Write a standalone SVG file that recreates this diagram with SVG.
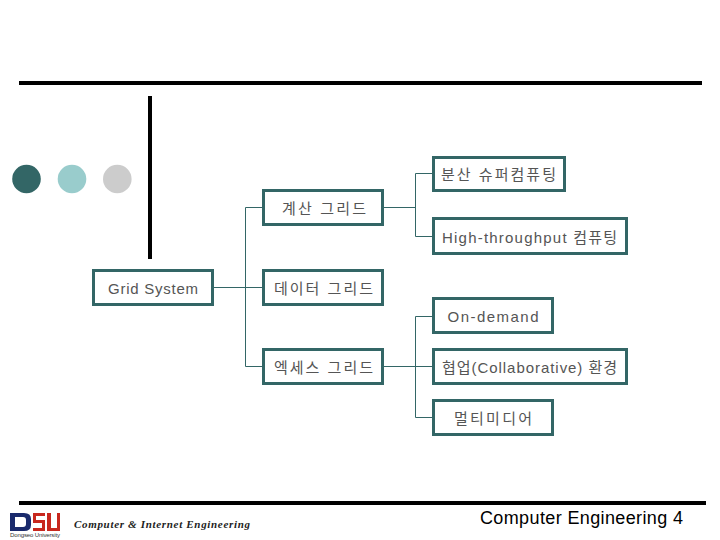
<svg xmlns="http://www.w3.org/2000/svg" width="720" height="540" viewBox="0 0 720 540">
<style>
.bar{fill:#000}
.box{fill:#fff;stroke:#336666;stroke-width:3}
.lbl{font-family:"Liberation Sans","Noto Sans CJK KR",sans-serif;font-size:15px;fill:#555}
.con{fill:none;stroke:#336666;stroke-width:1}
</style>
<rect width="720" height="540" fill="#fff"/>
<rect class="bar" x="19" y="81" width="683" height="4"/>
<rect class="bar" x="148" y="96" width="4" height="163"/>
<rect class="bar" x="19" y="501" width="687" height="4"/>
<circle cx="26.5" cy="179" r="14.3" fill="#336666"/>
<circle cx="72" cy="179" r="14.3" fill="#99CCCC"/>
<circle cx="117.3" cy="179" r="14.3" fill="#CCCCCC"/>
<g id="connectors">
<path class="con" d="M213 287.500H262M245.500 207.500H262M245.500 207.500V366.500H262"/>
<path class="con" d="M384 207.500H415.500M415.500 173.500H432M415.500 173.500V236.500H432"/>
<path class="con" d="M384 366.500H432M415.500 316.500H432M415.500 316.500V417.500H432"/>
</g>
<g id="n-grid"><rect class="box" x="93.500" y="270.500" width="119" height="34"/><text class="lbl" x="108" y="294" textLength="90">Grid System</text></g>
<g id="n-compute"><rect class="box" x="263.500" y="190.500" width="119" height="34"/><text class="lbl" x="282" y="214" textLength="84">계산 그리드</text></g>
<g id="n-data"><rect class="box" x="263.500" y="270.500" width="119" height="34"/><text class="lbl" x="274" y="294" textLength="99">데이터 그리드</text></g>
<g id="n-access"><rect class="box" x="263.500" y="349.500" width="119" height="34"/><text class="lbl" x="274" y="373" textLength="99">엑세스 그리드</text></g>
<g id="n-super"><rect class="box" x="433.500" y="157.500" width="131" height="33"/><text class="lbl" x="441" y="180" textLength="115">분산 슈퍼컴퓨팅</text></g>
<g id="n-high"><rect class="box" x="433.500" y="218.500" width="193" height="35"/><text class="lbl" x="442" y="243" textLength="175">High-throughput 컴퓨팅</text></g>
<g id="n-demand"><rect class="box" x="433.500" y="298.500" width="119" height="34"/><text class="lbl" x="447.500" y="322" textLength="91">On-demand</text></g>
<g id="n-collab"><rect class="box" x="433.500" y="349.500" width="193" height="34"/><text class="lbl" x="442" y="373" textLength="175">협업(Collaborative) 환경</text></g>
<g id="n-media"><rect class="box" x="433.500" y="400.500" width="119" height="34"/><text class="lbl" x="454" y="424" textLength="78">멀티미디어</text></g>
<g id="logo">
<path fill="#1a2a6c" d="M10 513h14q7 0 7 6v6q0 6-7 6H10zm5 4v10h8q3 0 3-3v-4q0-3-3-3z"/>
<path fill="#c8281e" d="M33 513h12v3H36v4h9v11H33v-3h9v-5h-9zM47 513h4v15h6v-15h3v18H47z"/>
<text x="10" y="536.500" font-family="Liberation Sans,sans-serif" font-size="6" fill="#333" textLength="50">Dongseo University</text>
</g>
<text x="74" y="528" font-family="Liberation Serif,serif" font-style="italic" font-weight="700" font-size="11" textLength="176" fill="#222">Computer &amp; Internet Engineering</text>
<text x="480" y="524" font-family="Liberation Sans,sans-serif" font-size="18" textLength="203" fill="#000">Computer Engineering 4</text>
</svg>
